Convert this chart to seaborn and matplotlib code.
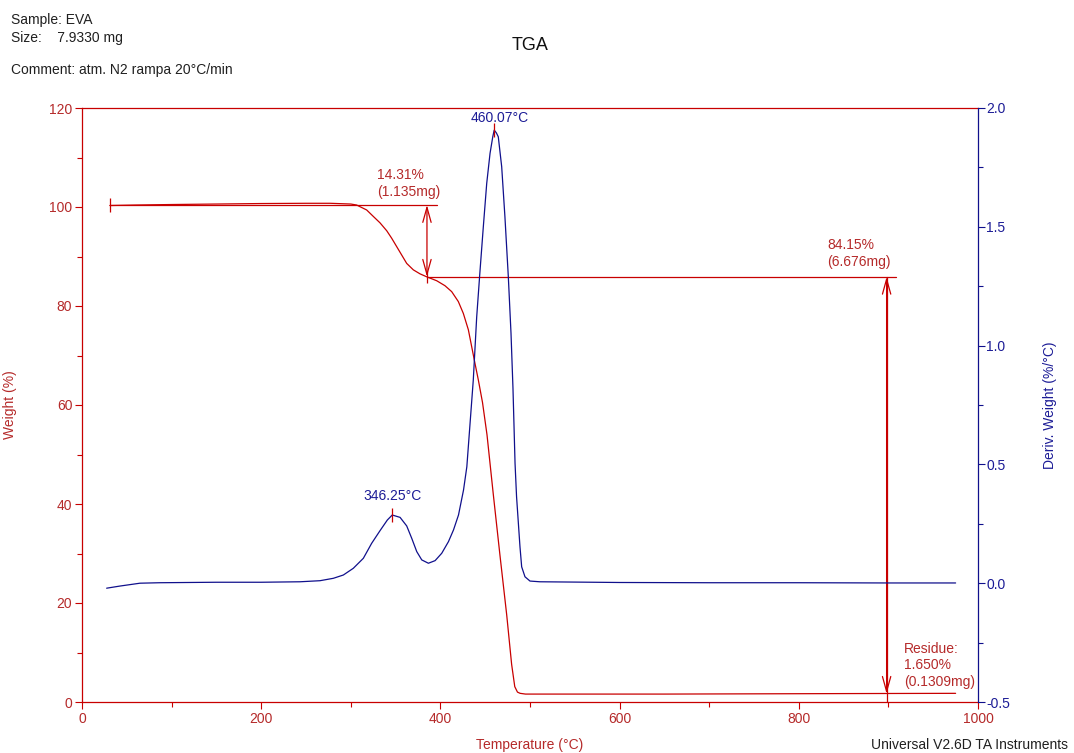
import matplotlib
matplotlib.use("Agg")
import matplotlib.pyplot as plt
from matplotlib.ticker import MultipleLocator, FormatStrFormatter
import seaborn as sns

# --- TGA weight curve (Temperature °C, Weight %) ---
temp_w = [31, 60, 100, 150, 200, 250, 277, 300, 306.5, 317.7,
          325.1, 332.6, 340.1, 345.6, 351.2, 356.8, 362.4, 369.8, 377.2, 384.7,
          395.9, 405.1, 412.6, 420, 425.6, 431.2, 434.9, 438.6, 442.3, 447,
          452, 459, 466.5, 474, 479.5, 483, 486, 489, 495, 550,
          650, 750, 850, 975]
weight = [100.3, 100.4, 100.5, 100.6, 100.7, 100.75, 100.75, 100.6, 100.4, 99.4,
          98.1, 96.8, 95.2, 93.7, 92.0, 90.3, 88.6, 87.3, 86.5, 85.9,
          85.1, 84.1, 82.9, 80.9, 78.5, 75.2, 71.8, 68.4, 65.1, 60.5,
          54.0, 42.0, 29.6, 17.6, 7.6, 3.1, 2.0, 1.75, 1.6, 1.6,
          1.6, 1.65, 1.7, 1.75]

# --- Derivative weight curve (Temperature °C, %/°C) ---
temp_d = [27.5, 42.4, 64.7, 87, 150, 200, 243.3, 265.6, 280.5, 291.7,
          302.8, 314, 323.3, 332.6, 340.8, 346.25, 355, 362.4, 368, 373.6,
          379.2, 386.6, 394.1, 401.5, 409, 414.6, 420.2, 425.8, 429.5, 436.7,
          440.5, 444, 447.9, 451.7, 455.4, 458.5, 460.07, 462.5, 464.6, 468.4,
          472, 475.8, 478.8, 481, 483.3, 485, 488.8, 490.7, 494.4, 500,
          511, 600, 700, 800, 900, 975]
deriv = [-0.021, -0.012, 0.0, 0.002, 0.004, 0.004, 0.006, 0.0105, 0.0206, 0.0345,
         0.0627, 0.1048, 0.168, 0.221, 0.266, 0.287, 0.277, 0.241, 0.189, 0.133,
         0.098, 0.084, 0.095, 0.126, 0.175, 0.224, 0.287, 0.392, 0.49, 0.855,
         1.12, 1.304, 1.50, 1.683, 1.809, 1.88, 1.907, 1.895, 1.879, 1.753,
         1.543, 1.29, 1.052, 0.82, 0.505, 0.364, 0.154, 0.069, 0.027, 0.009,
         0.006, 0.003, 0.002, 0.002, 0.001, 0.001]

# --- Analysis results ---
start_temp = 31
start_weight = 100.4
step1_temp = 385
step1_weight = 85.9
step1_end_temp = 396
step2_temp = 898
step2_end_temp = 908
residue_weight = 1.65
peak_temps = [346.25, 460.07]
peak_values = [0.287, 1.907]
peak_labels = ["346.25°C", "460.07°C"]
peak_label_offsets = [(0, 8.5), (4, 4)]

RED = "#c80000"
BLUE = "#10108c"
RED_TXT = "#b52a2a"
BLUE_TXT = "#1c1c96"
FS = 10

sns.set_theme(style="ticks")
plt.rcParams["font.family"] = ["Liberation Sans", "DejaVu Sans"]

fig = plt.figure(figsize=(10.74, 7.53), dpi=100)
ax = fig.add_axes([82 / 1074, 1 - 702 / 753, 896 / 1074, 594 / 753])
ax2 = ax.twinx()

sns.lineplot(x=temp_w, y=weight, ax=ax, color=RED, lw=0.9,
             estimator=None, sort=False)
sns.lineplot(x=temp_d, y=deriv, ax=ax2, color=BLUE, lw=0.9,
             estimator=None, sort=False)

# axes ranges and ticks
ax.set_xlim(0, 1000)
ax.set_ylim(0, 120)
ax2.set_ylim(-0.5, 2.0)
ax.xaxis.set_major_locator(MultipleLocator(200))
ax.xaxis.set_minor_locator(MultipleLocator(100))
ax.yaxis.set_major_locator(MultipleLocator(20))
ax.yaxis.set_minor_locator(MultipleLocator(10))
ax2.yaxis.set_major_locator(MultipleLocator(0.5))
ax2.yaxis.set_minor_locator(MultipleLocator(0.25))
ax2.yaxis.set_major_formatter(FormatStrFormatter("%.1f"))

tick_kw = dict(labelsize=FS, width=0.8, direction="out")
ax.tick_params(axis="both", which="major", length=5, colors=RED,
               labelcolor=RED_TXT, pad=2, **tick_kw)
ax.tick_params(axis="both", which="minor", length=3.5, colors=RED, **tick_kw)
ax2.tick_params(axis="y", which="major", length=5, colors=BLUE,
                labelcolor=BLUE_TXT, pad=1, **tick_kw)
ax2.tick_params(axis="y", which="minor", length=3.5, colors=BLUE, **tick_kw)

for side in ["left", "top", "bottom"]:
    ax.spines[side].set_color(RED)
    ax.spines[side].set_linewidth(0.9)
    ax2.spines[side].set_visible(False)
ax.spines["right"].set_visible(False)
ax2.spines["right"].set_color(BLUE)
ax2.spines["right"].set_linewidth(0.9)

# axis labels
ax.set_xlabel("Temperature (°C)", color=RED_TXT, fontsize=FS)
ax.xaxis.set_label_coords(0.5, -0.072)
ax.xaxis.label.set_va("center")
ax.set_ylabel("Weight (%)", color=RED_TXT, fontsize=FS)
ax.yaxis.set_label_coords(-72 / 896, 0.5)
ax.yaxis.label.set_va("center")
ax2.set_ylabel("Deriv. Weight (%/°C)", color=BLUE_TXT, fontsize=FS)
ax2.yaxis.set_label_coords(1 + 72 / 896, 0.5)
ax2.yaxis.label.set_va("center")

# step analysis marks on the weight curve
line_kw = dict(color=RED, lw=0.9)
ax.plot([start_temp, step1_end_temp], [start_weight, start_weight], **line_kw)
ax.plot([start_temp], [start_weight], marker="|", ms=10, mew=0.9, color=RED)
ax.plot([step1_temp, step2_end_temp], [step1_weight, step1_weight], **line_kw)
ax.plot([step1_temp], [step1_weight], marker="|", ms=8, mew=0.9, color=RED)
ax.plot([step2_temp, step2_temp], [step1_weight, 0], **line_kw)

arrow_kw = dict(arrowstyle="<->,head_length=0.9,head_width=0.25", color=RED,
                lw=0.9, shrinkA=0, shrinkB=0)
ax.annotate("", xy=(step1_temp, step1_weight), xytext=(step1_temp, start_weight),
            arrowprops=arrow_kw)
ax.annotate("", xy=(step2_temp, residue_weight), xytext=(step2_temp, step1_weight),
            arrowprops=arrow_kw)

txt_kw = dict(color=RED_TXT, fontsize=FS, linespacing=1.25)
ax.text(329, 101.6, "14.31%\n(1.135mg)", ha="left", va="bottom", **txt_kw)
ax.text(903, 87.5, "84.15%\n(6.676mg)", ha="right", va="bottom",
        multialignment="left", **txt_kw)
ax.text(917, 2.6, "Residue:\n1.650%\n(0.1309mg)", ha="left", va="bottom",
        **txt_kw)

# derivative peak marks
for t, v, lab, off in zip(peak_temps, peak_values, peak_labels,
                          peak_label_offsets):
    ax2.plot([t], [v], marker="|", ms=10, mew=0.9, color=RED)
    ax2.annotate(lab, xy=(t, v), xytext=off, textcoords="offset points",
                 ha="center", va="bottom", color=BLUE_TXT, fontsize=FS)

# header text
hdr = dict(fontsize=FS, color="#202020", va="baseline", ha="left")
fig.text(11 / 1074, 1 - 24 / 753, "Sample: EVA", **hdr)
fig.text(11 / 1074, 1 - 42 / 753, "Size:    7.9330 mg", **hdr)
fig.text(11 / 1074, 1 - 74 / 753, "Comment: atm. N2 rampa 20°C/min", **hdr)
fig.text(530 / 1074, 1 - 45 / 753, "TGA", fontsize=13, color="#101010",
         ha="center", va="center")
fig.text(1068 / 1074, 1 - 745 / 753, "Universal V2.6D TA Instruments",
         fontsize=FS, color="#202020", ha="right", va="center")

fig.savefig("out.png", dpi=100, facecolor="white")
